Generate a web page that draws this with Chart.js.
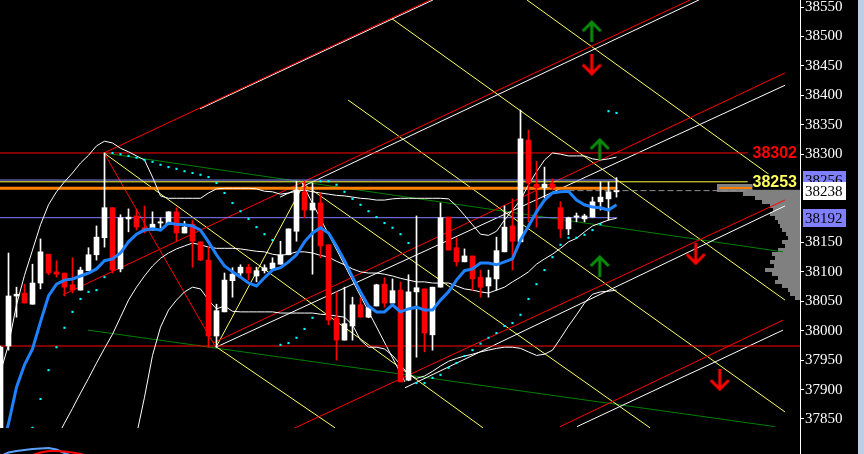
<!DOCTYPE html>
<html lang="en">
<head>
<meta charset="UTF-8">
<title>Dow 38238</title>
<script src="https://cdn.jsdelivr.net/npm/chart.js"></script>
<style>
  html, body { margin: 0; padding: 0; background: #000; overflow: hidden; }
  #wrap { position: relative; width: 864px; height: 454px; }
  #main { position: absolute; left: 0; top: 0; }
  #sub { position: absolute; left: 0; top: 434px; }
</style>
</head>
<body>
<div id="wrap">
  <canvas id="main" width="864" height="454"></canvas>
  <canvas id="sub" width="800" height="20"></canvas>
</div>
<script>
// candles (bar 0 = leftmost)
const open = [37835,37974,38059,38064,38045,38081,38130,38100,38098,38078,
  38069,38102,38129,38158,38209,38105,38190,38195,38175,38171,
  38183,38181,38202,38166,38181,38151,38120,37991,38032,38085,
  38098,38108,38093,38102,38105,38113,38129,38169,38236,38205,
  38217,38146,38022,37984,38008,38044,38023,38042,38079,38047,
  38069,37916,38066,38071,37993,38074,38193,38141,38117,38127,
  38091,38076,38088,38134,38178,38151,38324,38249,38243,38249,
  38209,38173,38193,38190,38193,38219,38224,38236];
const high = [37974,38132,38074,38079,38113,38156,38130,38119,38098,38124,
  38108,38141,38178,38302,38209,38197,38207,38207,38212,38202,
  38192,38202,38209,38186,38188,38151,38142,38045,38098,38107,
  38112,38113,38108,38112,38124,38152,38173,38254,38254,38251,
  38234,38146,38066,38074,38057,38056,38042,38079,38090,38088,
  38083,38095,38195,38071,38074,38217,38193,38158,38139,38127,
  38103,38103,38159,38212,38224,38375,38341,38288,38278,38258,
  38219,38193,38200,38198,38227,38253,38253,38260];
const low = [37825,37967,38023,38047,38045,38071,38095,38091,38059,38064,
  38069,38102,38120,38142,38098,38100,38168,38171,38166,38171,
  38175,38180,38152,38166,38108,38119,37972,37972,38032,38057,
  38091,38086,38083,38098,38103,38113,38129,38152,38192,38096,
  38124,38010,37950,37984,37984,38023,38022,38042,38040,38047,
  37913,37915,37955,37964,37967,38074,38137,38110,38117,38069,
  38057,38057,38069,38134,38103,38151,38185,38176,38226,38239,
  38158,38163,38185,38185,38193,38205,38188,38227];
const close = [37972,38059,38062,38047,38081,38134,38098,38096,38074,38069,
  38103,38129,38159,38209,38103,38192,38193,38176,38169,38181,
  38185,38202,38166,38176,38152,38120,37991,38034,38086,38096,
  38108,38098,38102,38107,38115,38129,38173,38239,38205,38217,
  38144,38018,37984,38012,38044,38023,38039,38078,38047,38068,
  37913,38066,38073,37996,38074,38192,38137,38117,38127,38088,
  38074,38090,38136,38176,38152,38326,38251,38243,38249,38243,
  38173,38192,38195,38195,38219,38227,38236,38238];

// indicators
const maFast = [37794,37842,37904,37942,37969,38015,38059,38079,38086,38088,
  38093,38098,38105,38119,38122,38132,38151,38164,38171,38173,
  38171,38183,38181,38180,38178,38171,38151,38129,38110,38100,
  38091,38081,38076,38090,38103,38107,38117,38129,38151,38166,
  38175,38166,38144,38119,38091,38066,38042,38032,38032,38044,
  38032,38037,38040,38035,38035,38052,38066,38086,38102,38105,
  38115,38115,38112,38117,38122,38154,38178,38202,38222,38234,
  38236,38237,38222,38214,38210,38209,38205,38214];
const bbUpper = [37930,37976,38044,38094,38137,38180,38214,38236,38253,38268,
  38285,38298,38314,38322,38319,38310,38304,38297,38290,38261,
  38229,38225,38225,38225,38225,38225,38234,38241,38242,38242,
  38242,38242,38241,38237,38236,38232,38234,38237,38239,38236,
  38234,38232,38230,38229,38227,38225,38224,38222,38222,38224,
  38225,38225,38225,38225,38225,38225,38224,38212,38196,38180,
  38164,38162,38169,38188,38205,38222,38248,38270,38290,38302,
  38300,38297,38297,38297,38292,38290,38292,38295];
const bbMiddle = [37641,37666,37692,37717,37743,37766,37792,37817,37843,37868,
  37894,37919,37945,37970,37994,38023,38052,38074,38093,38110,
  38123,38132,38139,38144,38149,38146,38142,38140,38140,38140,
  38139,38137,38135,38134,38130,38128,38130,38134,38134,38132,
  38128,38125,38118,38112,38105,38100,38098,38098,38096,38093,
  38089,38086,38083,38083,38081,38081,38081,38076,38071,38069,
  38066,38064,38069,38074,38083,38091,38100,38113,38122,38130,
  38140,38151,38157,38168,38178,38183,38188,38191];
const bbLower = [null,null,null,null,null,null,null,null,null,null,
  null,null,null,37542,37644,37704,37763,37823,37887,37958,
  38006,38035,38052,38066,38074,38071,38052,38037,38042,38033,
  38032,38032,38032,38032,38032,38030,38030,38030,38030,38030,
  38028,38027,38025,38023,38010,37984,37972,37972,37969,37958,
  37942,37926,37919,37923,37931,37940,37948,37953,37957,37960,
  37964,37967,37970,37972,37972,37970,37964,37958,37960,37967,
  37987,38008,38027,38047,38062,38066,38067,38069];
const sar = [null,null,null,null,37835,37884,37933,37972,38005,38032,
  38054,38066,38069,38091,38302,38300,38297,38294,38290,38287,
  38282,38278,38275,38271,38268,38265,38261,38251,38234,38217,
  38203,38190,38176,38164,38154,37976,37979,37988,38003,38022,
  38254,38254,38248,38236,38224,38214,38203,38193,38183,38175,
  38164,38149,37911,37911,37920,37925,37937,37945,37957,37967,
  37978,37988,37996,38008,38013,38027,38054,38079,38103,38125,
  38146,38158,38158,38163,38171,38181,38373,38370];

// drawn objects: [bar, price] anchors
const redLines = [
  [[12.94, 38302], [53.7, 38562]],
  [[7.81, 38061], [86.19, 38562]],
  [[26.56, 37979], [98.06, 38438]],
  [[36.19, 37831], [98.06, 38222]],
  [[69.94, 37837], [97.81, 38018]],
  [[12.94, 38302], [26.81, 37974]]
];
const whiteLines = [
  [[24.94, 38377], [54.06, 38562]],
  [[34.94, 38227], [87.3, 38562]],
  [[26.94, 37972], [98.06, 38417]],
  [[50.56, 37903], [98.06, 38212]],
  [[72.06, 37837], [97.81, 38001]],
  [[37.69, 38251], [50.56, 37913]]
];
const yellowLines = [
  [[48.94, 38530], [98.06, 38052]],
  [[65.81, 38562], [98.06, 38246]],
  [[43.44, 38392], [98.06, 37862]],
  [[12.94, 38302], [60.31, 37835]],
  [[37.69, 38251], [81.19, 37835]],
  [[26.81, 37974], [41.81, 37835]],
  [[26.94, 37972], [38.06, 38253]]
];
const greenLines = [
  [[12.94, 38302], [97.81, 38134]],
  [[10.94, 38001], [96.81, 37837]]
];
const arrowsUp = [[73.9, 38509], [74.9, 38309], [74.9, 38110]];
const arrowsDown = [[73.9, 38452], [86.9, 38130], [89.9, 37916]];

// levels
const levelHigh = 38302;
const levelLow = 37974;
const levelYellow = 38253;
const levelsBlue = [38256, 38192];
const levelOrange = 38242;
const lastPrice = 38238;

// price axis labels
const priceTicks = [38550,38500,38450,38400,38350,38300,38250,38200,38150,38100,
  38050,38000,37950,37900,37850];

// price profile
const profilePrice = [38246,38239,38232,38225,38219,38212,38205,38198,38191,38185,
  38178,38171,38164,38157,38151,38144,38137,38130,38123,38117,
  38110,38103,38096,38089,38083,38076,38069,38062,38055];
const profileVol = [83,83,57,45,38,30,27,30,25,22,20,18,14,12,18,15,22,28,25,30,
  26,35,28,22,25,18,12,10,5];

// sub-window oscillator
const oscBlue = [-2,1.5,3,4,5,5.5,6,4.5,1,-2];
const oscRed = [null,null,null,-3,-1,1.5,3,3,2.5,1.5,0,-2];

const yMin = 37834.7, yMax = 38561.9;
const xMin = -0.0625, xMax = 99.9375;
const lastBar = open.length - 1;
const labelEnd = 93.4;

function series(arr) { return arr.map((v, i) => ({ x: i, y: v })); }
function seg(a, b) { return [{ x: a[0], y: a[1] }, { x: b[0], y: b[1] }]; }
function lineDs(data, color, width, order, extra) {
  return Object.assign({
    type: 'line', data: data, borderColor: color, backgroundColor: color,
    borderWidth: width, pointRadius: 0, fill: false, tension: 0, order: order
  }, extra || {});
}

function arrowImg(color, up) {
  const c = document.createElement('canvas');
  c.width = 24; c.height = 22;
  const g = c.getContext('2d');
  g.strokeStyle = color; g.lineWidth = 3;
  g.beginPath();
  if (up) {
    g.moveTo(12, 22); g.lineTo(12, 3);
    g.moveTo(3, 11); g.lineTo(12, 2); g.lineTo(21, 11);
  } else {
    g.moveTo(12, 0); g.lineTo(12, 19);
    g.moveTo(3, 11); g.lineTo(12, 20); g.lineTo(21, 11);
  }
  g.stroke();
  return c;
}

const candleColor = open.map((o, i) => close[i] >= o ? '#ffffff' : '#ff0000');

const datasets = [];
datasets.push({ type: 'scatter', data: arrowsUp.map(p => ({ x: p[0], y: p[1] })),
  pointStyle: arrowImg('#0a8c0a', true), order: 0 });
datasets.push({ type: 'scatter', data: arrowsDown.map(p => ({ x: p[0], y: p[1] })),
  pointStyle: arrowImg('#ff0000', false), order: 0 });
datasets.push({ type: 'scatter', data: series(sar), pointStyle: 'rect', pointRadius: 1.5,
  borderWidth: 0, backgroundColor: '#00ffff', order: 1 });
datasets.push(lineDs(series(maFast), '#1e82ff', 3, 2));
datasets.push({ type: 'bar', data: open.map((o, i) => ({ x: i, y: [o, close[i]] })),
  backgroundColor: candleColor, barThickness: 5, minBarLength: 1, grouped: false, order: 3 });
datasets.push({ type: 'bar', data: open.map((o, i) => ({ x: i, y: [low[i], high[i]] })),
  backgroundColor: candleColor, barThickness: 1, grouped: false, order: 4 });
[bbUpper, bbMiddle, bbLower].forEach(b => datasets.push(lineDs(series(b), '#ffffff', 1, 5)));

datasets.push(lineDs(seg([xMin, levelOrange], [lastBar + 0.1, levelOrange]), '#ff8000', 3, 6));
levelsBlue.forEach(v => datasets.push(lineDs(seg([xMin, v], [lastBar + 0.1, v]), '#8080ff', 1, 6)));
datasets.push(lineDs(seg([xMin, levelYellow], [labelEnd, levelYellow]), '#ffff40', 1, 6));
datasets.push(lineDs(seg([xMin, levelHigh], [labelEnd, levelHigh]), '#ff0000', 1, 6));
datasets.push(lineDs(seg([xMin, levelLow], [xMax, levelLow]), '#ff0000', 1, 6));
datasets.push(lineDs(seg([lastBar - 6, lastPrice], [labelEnd, lastPrice]), '#909090', 1, 6, { borderDash: [6, 3] }));

redLines.forEach(l => datasets.push(lineDs(seg(l[0], l[1]), '#ff0000', 1, 7)));
whiteLines.forEach(l => datasets.push(lineDs(seg(l[0], l[1]), '#ffffff', 1, 7)));
yellowLines.forEach(l => datasets.push(lineDs(seg(l[0], l[1]), '#ffff66', 1, 7)));
greenLines.forEach(l => datasets.push(lineDs(seg(l[0], l[1]), '#008000', 1, 7)));

const axisMarks = [
  { v: levelsBlue[0], bg: '#8080ff' },
  { v: levelsBlue[1], bg: '#8080ff' },
  { v: lastPrice, bg: '#ffffff' }
];

const mt4Plugin = {
  id: 'mt4',
  beforeDraw(chart) {
    const g = chart.ctx;
    g.save(); g.fillStyle = '#000'; g.fillRect(0, 0, chart.width, chart.height); g.restore();
  },
  beforeDatasetsDraw(chart) {
    const g = chart.ctx, ys = chart.scales.y, right = chart.chartArea.right;
    const step = Math.abs(profilePrice[0] - profilePrice[1]);
    g.save();
    g.fillStyle = '#808080';
    profilePrice.forEach((p, k) => {
      const y0 = Math.round(ys.getPixelForValue(p + step / 2));
      const y1 = Math.round(ys.getPixelForValue(p - step / 2));
      g.fillRect(right - profileVol[k], y0, profileVol[k], y1 - y0);
    });
    // point of control
    const maxVol = Math.max.apply(null, profileVol);
    const yPoc = Math.round(ys.getPixelForValue(levelOrange));
    g.fillStyle = '#ff8000';
    g.fillRect(right - maxVol + 2, yPoc - 1, maxVol - 50, 2);
    g.restore();
  },
  afterDatasetsDraw(chart) {
    const g = chart.ctx, ys = chart.scales.y, right = chart.chartArea.right;
    g.save();
    g.font = 'bold 16px "Liberation Sans", Arial, sans-serif';
    g.textAlign = 'right'; g.textBaseline = 'middle';
    const yy = ys.getPixelForValue(levelYellow);
    const w = g.measureText(String(levelYellow)).width;
    g.fillStyle = '#000';
    g.fillRect(right - 3 - w, yy - 8, w + 3, 16);
    g.fillStyle = '#ffff60';
    g.fillText(String(levelYellow), right - 3, yy + 1);
    g.fillStyle = '#ff0000';
    g.fillText(String(levelHigh), right - 3, ys.getPixelForValue(levelHigh) + 1);
    g.restore();
  },
  afterDraw(chart) {
    const g = chart.ctx, ys = chart.scales.y, right = chart.chartArea.right;
    g.save();
    g.strokeStyle = '#fff'; g.lineWidth = 1;
    g.beginPath(); g.moveTo(right + 0.5, 0); g.lineTo(right + 0.5, chart.height); g.stroke();
    g.font = '15px "Liberation Serif", "Times New Roman", serif';
    g.textAlign = 'left'; g.textBaseline = 'middle';
    axisMarks.forEach(m => {
      const y = Math.round(ys.getPixelForValue(m.v));
      g.fillStyle = m.bg;
      g.fillRect(right + 3, y - 9, 43, 18);
      g.fillStyle = '#000';
      g.fillText(String(m.v), right + 5, y + 1);
    });
    g.fillStyle = '#bccde6';
    g.fillRect(chart.width - 6, 0, 6, chart.height);
    g.restore();
  }
};

new Chart(document.getElementById('main'), {
  type: 'bar',
  data: { datasets: datasets },
  options: {
    responsive: false, animation: false, events: [],
    layout: { autoPadding: false, padding: { top: 0, left: 0, right: 0, bottom: 26 } },
    plugins: { legend: { display: false }, tooltip: { enabled: false } },
    scales: {
      x: { type: 'linear', min: xMin, max: xMax, display: false, offset: false },
      y: {
        position: 'right', min: yMin, max: yMax,
        afterFit(s) { s.width = 64; s.paddingTop = 0; s.paddingBottom = 0; },
        afterBuildTicks(s) {
          s.ticks = priceTicks
            .filter(v => !axisMarks.some(m => Math.abs(m.v - v) < 12))
            .map(v => ({ value: v }));
        },
        ticks: { color: '#ffffff', padding: 1, autoSkip: false,
          callback: v => String(v),
          font: { family: '"Liberation Serif", "Times New Roman", serif', size: 15 } },
        grid: { drawOnChartArea: false, color: '#ffffff', tickLength: 4 },
        border: { color: '#ffffff' }
      }
    }
  },
  plugins: [mt4Plugin]
});

new Chart(document.getElementById('sub'), {
  type: 'line',
  data: { datasets: [
    lineDs(series(oscBlue), '#5aa0ff', 2, 1),
    lineDs(series(oscRed), '#ff0000', 2, 0)
  ] },
  options: {
    responsive: false, animation: false, events: [],
    layout: { autoPadding: false, padding: 0 },
    plugins: { legend: { display: false }, tooltip: { enabled: false } },
    scales: {
      x: { type: 'linear', min: xMin, max: xMax, display: false },
      y: { min: 0, max: 20, display: false }
    }
  }
});
</script>
</body>
</html>
